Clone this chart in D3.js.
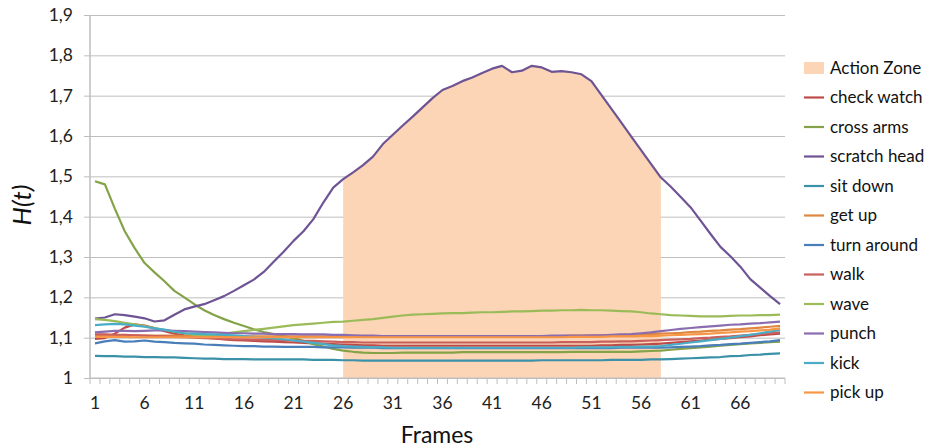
<!DOCTYPE html>
<html><head><meta charset="utf-8">
<script src="https://cdn.jsdelivr.net/npm/d3@7"></script>
<style>
html,body{margin:0;padding:0;background:#fff;}
svg{display:block;font-family:Lato,"Open Sans",sans-serif;}
</style></head>
<body>
<svg id="chart" width="933" height="447"></svg>
<script>
// ---- data ----
const frames = d3.range(1, 71);
const yTicks = [1, 1.1, 1.2, 1.3, 1.4, 1.5, 1.6, 1.7, 1.8, 1.9];
const xTickLabels = [1, 6, 11, 16, 21, 26, 31, 36, 41, 46, 51, 56, 61, 66];
const actionStart = 26, actionEnd = 58;

const seriesNames = ["check watch","cross arms","scratch head","sit down","get up","turn around","walk","wave","punch","kick","pick up"];
const seriesColors = ["#BE4B48","#84A348","#6E5494","#3A91A8","#E0873F","#4A7EBB","#C9605D","#9BBB59","#8A6DB0","#4BACC6","#F79646"];

const checkWatch = [1.097,1.099,1.110,1.125,1.133,1.130,1.124,1.116,1.110,1.106,
 1.103,1.100,1.098,1.096,1.094,1.093,1.092,1.091,1.090,1.089,
 1.088,1.087,1.086,1.085,1.084,1.083,1.082,1.081,1.081,1.080,
 1.080,1.080,1.080,1.080,1.080,1.080,1.080,1.080,1.080,1.080,
 1.080,1.080,1.080,1.080,1.080,1.080,1.080,1.080,1.080,1.080,
 1.080,1.081,1.081,1.082,1.082,1.083,1.084,1.085,1.087,1.089,
 1.091,1.093,1.095,1.097,1.099,1.101,1.103,1.106,1.108,1.110];
const crossArms = [1.488,1.480,1.420,1.364,1.322,1.285,1.262,1.240,1.216,1.200,
 1.183,1.168,1.156,1.146,1.137,1.129,1.121,1.114,1.109,1.104,
 1.099,1.092,1.084,1.078,1.072,1.068,1.065,1.063,1.062,1.062,
 1.062,1.063,1.063,1.063,1.063,1.063,1.063,1.064,1.064,1.064,
 1.064,1.064,1.064,1.064,1.064,1.064,1.064,1.064,1.065,1.065,
 1.065,1.065,1.065,1.065,1.065,1.066,1.067,1.068,1.070,1.072,
 1.074,1.076,1.078,1.080,1.082,1.084,1.086,1.087,1.089,1.090];
const scratchHead = [1.147,1.150,1.158,1.156,1.152,1.148,1.140,1.143,1.157,1.170,
 1.177,1.183,1.193,1.203,1.216,1.230,1.244,1.263,1.288,1.313,
 1.340,1.364,1.394,1.435,1.472,1.493,1.510,1.528,1.549,1.580,
 1.603,1.626,1.648,1.671,1.694,1.714,1.724,1.736,1.745,1.756,
 1.767,1.774,1.758,1.762,1.774,1.770,1.759,1.761,1.758,1.753,
 1.736,1.702,1.668,1.634,1.599,1.565,1.531,1.497,1.474,1.449,
 1.423,1.390,1.357,1.325,1.302,1.276,1.245,1.224,1.203,1.183];
const sitDown = [1.055,1.054,1.054,1.053,1.053,1.052,1.052,1.051,1.051,1.050,
 1.049,1.048,1.048,1.047,1.047,1.047,1.046,1.046,1.046,1.046,
 1.046,1.046,1.045,1.045,1.045,1.044,1.044,1.043,1.043,1.043,
 1.043,1.043,1.043,1.043,1.043,1.043,1.043,1.043,1.043,1.043,
 1.043,1.043,1.043,1.043,1.043,1.044,1.044,1.044,1.044,1.044,
 1.044,1.044,1.045,1.045,1.045,1.045,1.046,1.046,1.047,1.048,
 1.049,1.050,1.051,1.052,1.054,1.055,1.057,1.058,1.060,1.061];
const getUp = [1.107,1.107,1.106,1.106,1.106,1.105,1.105,1.105,1.105,1.104,
 1.104,1.104,1.104,1.104,1.103,1.103,1.103,1.103,1.103,1.103,
 1.103,1.103,1.103,1.103,1.103,1.103,1.103,1.103,1.103,1.103,
 1.103,1.103,1.103,1.103,1.103,1.103,1.103,1.103,1.103,1.103,
 1.103,1.103,1.103,1.103,1.104,1.104,1.104,1.104,1.105,1.105,
 1.105,1.106,1.106,1.107,1.107,1.108,1.109,1.110,1.111,1.112,
 1.114,1.115,1.117,1.118,1.120,1.121,1.123,1.125,1.127,1.129];
const turnAround = [1.086,1.091,1.094,1.090,1.091,1.093,1.090,1.089,1.087,1.086,
 1.085,1.083,1.082,1.081,1.080,1.079,1.079,1.078,1.078,1.077,
 1.077,1.077,1.077,1.076,1.076,1.076,1.075,1.075,1.075,1.074,
 1.074,1.074,1.074,1.074,1.074,1.074,1.074,1.074,1.074,1.074,
 1.074,1.074,1.074,1.074,1.074,1.074,1.074,1.074,1.074,1.074,
 1.074,1.074,1.074,1.075,1.075,1.075,1.075,1.075,1.076,1.077,
 1.078,1.079,1.081,1.082,1.084,1.085,1.087,1.089,1.091,1.094];
const walk = [1.108,1.108,1.107,1.107,1.106,1.105,1.104,1.103,1.102,1.101,
 1.100,1.099,1.098,1.097,1.096,1.096,1.095,1.095,1.094,1.094,
 1.093,1.092,1.092,1.091,1.090,1.089,1.089,1.088,1.088,1.088,
 1.088,1.088,1.088,1.088,1.088,1.088,1.088,1.088,1.088,1.088,
 1.088,1.088,1.088,1.088,1.088,1.088,1.088,1.089,1.089,1.089,
 1.089,1.090,1.090,1.091,1.091,1.092,1.093,1.094,1.095,1.096,
 1.097,1.099,1.100,1.102,1.103,1.105,1.107,1.109,1.111,1.113];
const wave = [1.146,1.144,1.141,1.137,1.133,1.129,1.124,1.119,1.115,1.111,
 1.107,1.106,1.107,1.110,1.113,1.116,1.119,1.122,1.125,1.128,
 1.131,1.133,1.135,1.137,1.139,1.140,1.142,1.144,1.146,1.149,
 1.152,1.155,1.157,1.158,1.159,1.160,1.161,1.161,1.162,1.163,
 1.163,1.164,1.165,1.165,1.166,1.167,1.167,1.168,1.168,1.169,
 1.168,1.168,1.167,1.166,1.165,1.163,1.160,1.158,1.156,1.155,
 1.154,1.153,1.153,1.153,1.154,1.155,1.155,1.156,1.156,1.157];
const punch = [1.113,1.115,1.117,1.117,1.116,1.117,1.118,1.118,1.117,1.116,
 1.115,1.114,1.113,1.112,1.111,1.111,1.110,1.110,1.109,1.109,
 1.109,1.108,1.108,1.108,1.107,1.107,1.106,1.105,1.105,1.104,
 1.104,1.104,1.104,1.104,1.104,1.104,1.104,1.104,1.104,1.104,
 1.104,1.104,1.104,1.104,1.104,1.104,1.105,1.105,1.105,1.105,
 1.106,1.106,1.107,1.108,1.109,1.111,1.113,1.116,1.119,1.122,
 1.124,1.126,1.128,1.130,1.132,1.133,1.135,1.136,1.138,1.140];
const kick = [1.131,1.133,1.134,1.133,1.130,1.127,1.123,1.120,1.115,1.111,
 1.110,1.109,1.108,1.107,1.106,1.104,1.102,1.100,1.098,1.096,
 1.093,1.090,1.087,1.084,1.081,1.079,1.078,1.077,1.076,1.076,
 1.075,1.075,1.075,1.075,1.075,1.075,1.075,1.075,1.075,1.075,
 1.075,1.075,1.075,1.075,1.075,1.075,1.075,1.075,1.075,1.076,
 1.076,1.076,1.076,1.077,1.077,1.078,1.078,1.079,1.082,1.085,
 1.088,1.091,1.094,1.097,1.100,1.104,1.107,1.111,1.115,1.119];
const pickUp = [1.102,1.102,1.102,1.102,1.101,1.101,1.101,1.101,1.101,1.101,
 1.101,1.101,1.101,1.101,1.101,1.101,1.101,1.101,1.101,1.101,
 1.101,1.101,1.101,1.101,1.101,1.101,1.101,1.101,1.101,1.101,
 1.101,1.101,1.101,1.101,1.101,1.101,1.101,1.101,1.101,1.101,
 1.101,1.101,1.101,1.101,1.101,1.101,1.101,1.101,1.102,1.102,
 1.102,1.102,1.103,1.103,1.103,1.104,1.104,1.105,1.106,1.107,
 1.108,1.109,1.110,1.112,1.113,1.115,1.116,1.118,1.120,1.123];

const seriesValues = [checkWatch, crossArms, scratchHead, sitDown, getUp, turnAround, walk, wave, punch, kick, pickUp];

// ---- chart ----
const svg = d3.select("#chart");
const mLeft = 90, mRight = 785, mTop = 15, mBottom = 378;
const x = d3.scaleBand().domain(frames).range([mLeft, mRight]).paddingInner(0).paddingOuter(0);
const cx = f => x(f) + x.bandwidth() / 2;
const y = d3.scaleLinear().domain([1, 1.9]).range([mBottom, mTop]);
const gridColor = "#BEBEBE";

// gridlines + y axis
const yAxis = d3.axisLeft(y).tickValues(yTicks).tickSize(-(mRight - mLeft)).tickSizeOuter(0)
  .tickFormat(d => d3.format(".1f")(d).replace(".0", "").replace(".", ","));
const gy = svg.append("g").attr("transform", `translate(${mLeft},0)`).call(yAxis);
gy.select(".domain").remove();
gy.selectAll(".tick line").attr("stroke", gridColor).attr("x1", -6).attr("stroke-width", 1);
gy.selectAll(".tick text").attr("x", -17).attr("font-size", 17.5).attr("fill", "#222")
  .attr("font-family", "Lato, sans-serif");

// action zone
const zoneFrames = frames.filter(f => f >= actionStart && f <= actionEnd);
const area = d3.area().x(f => cx(f)).y0(y(1)).y1(f => y(scratchHead[f - 1]));
svg.append("path").datum(zoneFrames).attr("d", area).attr("fill", "#FBD5B5");

// x axis
svg.append("line").attr("x1", mLeft).attr("x2", mRight).attr("y1", mBottom).attr("y2", mBottom)
  .attr("stroke", gridColor).attr("stroke-width", 1.2);
svg.append("line").attr("x1", mLeft).attr("x2", mLeft).attr("y1", mTop).attr("y2", mBottom)
  .attr("stroke", gridColor).attr("stroke-width", 1.5);
const edges = frames.map(f => x(f)).concat([mRight]);
svg.append("g").selectAll("line").data(edges).join("line")
  .attr("x1", d => d).attr("x2", d => d).attr("y1", mBottom).attr("y2", mBottom + 6)
  .attr("stroke", gridColor).attr("stroke-width", 1);
const xAxis = d3.axisBottom(x).tickValues(xTickLabels).tickSize(0).tickPadding(0);
const gx = svg.append("g").attr("transform", `translate(0,${mBottom})`).call(xAxis);
gx.select(".domain").remove();
gx.selectAll(".tick text").attr("y", 19).attr("font-size", 17.5).attr("fill", "#222")
  .attr("font-family", "Lato, sans-serif");

// lines
const line = d3.line().x((d, i) => cx(frames[i])).y(d => y(d));
svg.append("g").selectAll("path").data(seriesValues).join("path")
  .attr("d", d => line(d)).attr("fill", "none")
  .attr("stroke", (d, i) => seriesColors[i]).attr("stroke-width", 2.2)
  .attr("stroke-linejoin", "round");

// axis titles
svg.append("text").attr("transform", "translate(31,205) rotate(-90)")
  .attr("text-anchor", "middle").attr("font-size", 26).attr("font-style", "italic")
  .attr("font-family", "Lato, sans-serif").attr("fill", "#111").text("H(t)");
svg.append("text").attr("x", 437).attr("y", 443)
  .attr("text-anchor", "middle").attr("font-size", 23)
  .attr("font-family", "Lato, sans-serif").attr("fill", "#111").text("Frames");

// legend
const legendItems = ["Action Zone"].concat(seriesNames);
const lg = svg.append("g");
const ly = i => 68 + i * 29.5;
legendItems.forEach((name, i) => {
  if (i === 0) {
    lg.append("rect").attr("x", 804).attr("y", ly(i) - 6).attr("width", 20).attr("height", 12).attr("fill", "#FBD5B5");
  } else {
    lg.append("line").attr("x1", 804).attr("x2", 824).attr("y1", ly(i)).attr("y2", ly(i))
      .attr("stroke", seriesColors[i - 1]).attr("stroke-width", 2.2);
  }
  lg.append("text").attr("x", 830).attr("y", ly(i)).attr("dy", "0.35em")
    .attr("font-size", 17).attr("font-family", "Lato, sans-serif").attr("fill", "#111").text(name);
});
</script>
</body></html>
